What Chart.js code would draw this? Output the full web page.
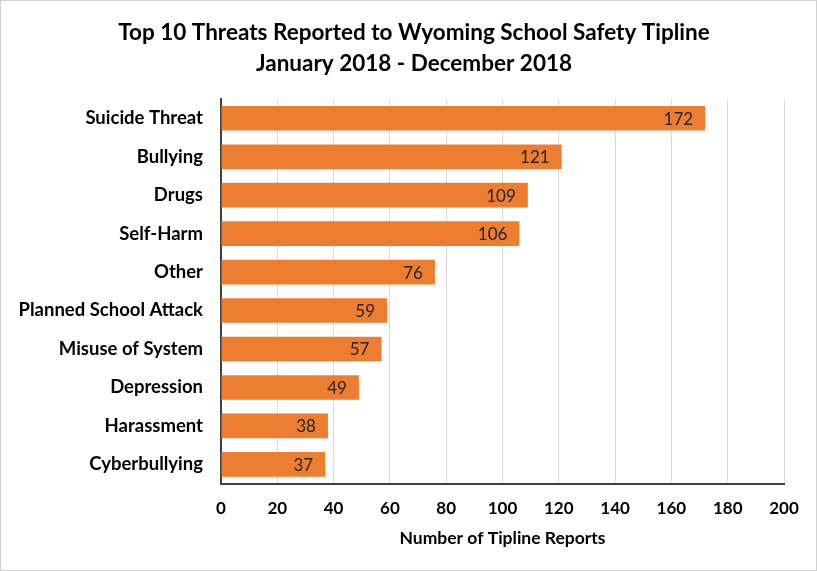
<!DOCTYPE html>
<html>
<head>
<meta charset="utf-8">
<script src="https://cdn.jsdelivr.net/npm/chart.js@4"></script>
<style>
  html, body { margin: 0; padding: 0; background: #fff; }
  #wrap { position: absolute; left: 0; top: 0; width: 815px; height: 569px; border: 1px solid #d0d0d0; }
</style>
</head>
<body>
<div id="wrap"><canvas id="threats" width="815" height="569"></canvas></div>
<script>
// values
var categories = ["Suicide Threat", "Bullying", "Drugs", "Self-Harm", "Other",
  "Planned School Attack", "Misuse of System", "Depression", "Harassment", "Cyberbullying"];
var reports = [172, 121, 109, 106, 76, 59, 57, 49, 38, 37];
var xTicks = [0, 20, 40, 60, 80, 100, 120, 140, 160, 180, 200];
var titleLines = ["Top 10 Threats Reported to Wyoming School Safety Tipline", "January 2018 - December 2018"];

var fontFamily = "Lato, 'Open Sans', sans-serif";

// value labels inside the end of each bar + the two line heading
var barLabels = {
  id: 'barLabels',
  afterDatasetsDraw: function(chart) {
    var ctx = chart.ctx;
    var meta = chart.getDatasetMeta(0);
    ctx.save();
    ctx.font = "17px " + fontFamily;
    ctx.fillStyle = '#262626';
    ctx.textAlign = 'right';
    ctx.textBaseline = 'middle';
    meta.data.forEach(function(bar, i) {
      ctx.fillText(reports[i], bar.x - 12, bar.y + 1);
    });
    ctx.restore();
  },
  afterDraw: function(chart) {
    var ctx = chart.ctx;
    ctx.save();
    ctx.font = "bold 22.5px " + fontFamily;
    ctx.fillStyle = '#000';
    ctx.textAlign = 'center';
    ctx.textBaseline = 'middle';
    ctx.fillText(titleLines[0], 413, 32);
    ctx.fillText(titleLines[1], 413, 63);
    ctx.restore();
  }
};

var ctx = document.getElementById("threats").getContext('2d');
var threatChart = new Chart(ctx, {
  type: 'bar',
  data: {
    labels: categories,
    datasets: [{
      data: reports,
      backgroundColor: '#ED7D31',
      borderWidth: 0,
      barPercentage: 0.64,
      categoryPercentage: 1.0
    }]
  },
  options: {
    indexAxis: 'y',
    responsive: false,
    animation: false,
    layout: { padding: { left: 8, right: 32, top: 98, bottom: 17 } },
    plugins: {
      legend: { display: false },
      tooltip: { enabled: false },
      title: { display: false }
    },
    scales: {
      x: {
        min: 0,
        max: 200,
        afterBuildTicks: function(scale) {
          scale.ticks = xTicks.map(function(v) { return { value: v }; });
        },
        grid: { color: '#d9d9d9', lineWidth: 1, drawTicks: false },
        border: { display: true, color: '#404040', width: 2 },
        ticks: {
          color: '#000',
          padding: 15,
          font: { family: fontFamily, size: 17, weight: 'bold' }
        },
        title: {
          display: true,
          text: "Number of Tipline Reports",
          color: '#000',
          font: { family: fontFamily, size: 17.5, weight: 'bold' },
          padding: { top: -6 }
        }
      },
      y: {
        grid: { display: false, drawTicks: false },
        border: { display: true, color: '#404040', width: 2 },
        afterFit: function(scale) { scale.width = 212; },
        ticks: {
          color: '#000',
          padding: 18,
          font: { family: fontFamily, size: 18.5, weight: 'bold' }
        }
      }
    }
  },
  plugins: [barLabels]
});
</script>
</body>
</html>
